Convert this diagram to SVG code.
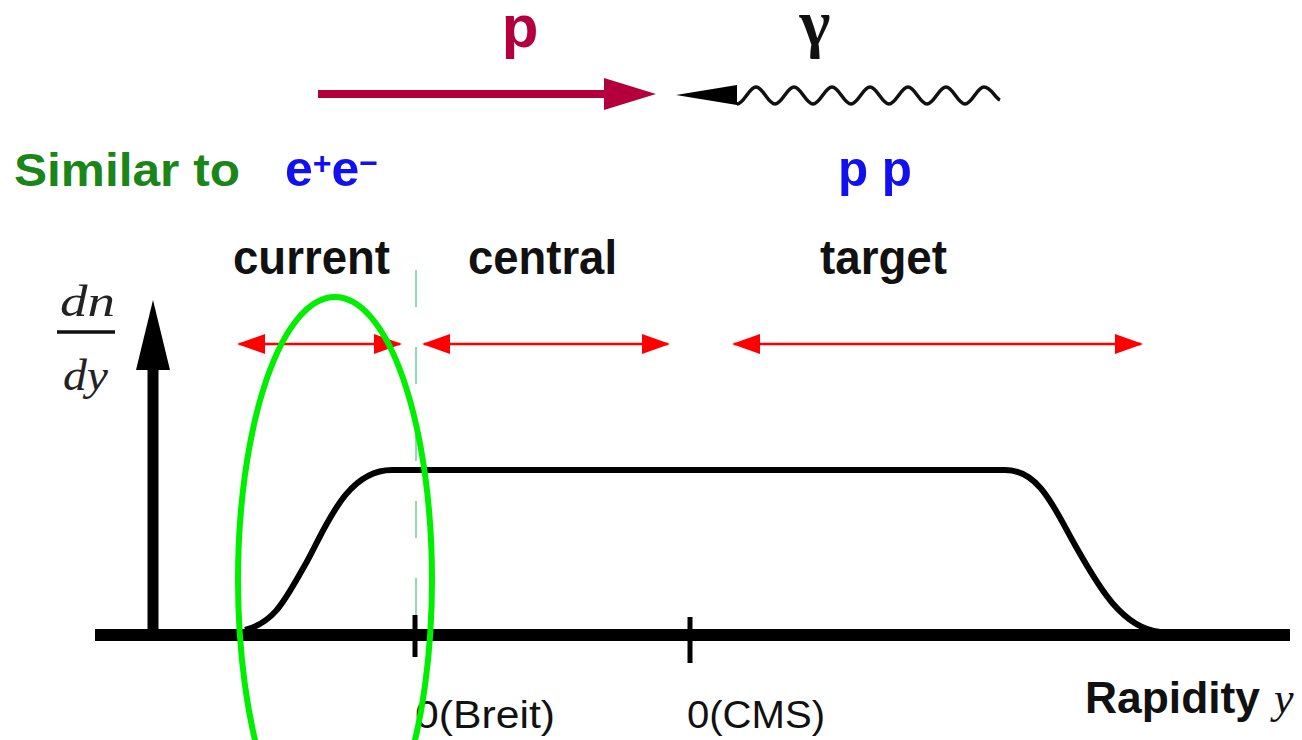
<svg xmlns="http://www.w3.org/2000/svg" width="1302" height="740" viewBox="0 0 1302 740">
<style>
.sans{font-family:"Liberation Sans",Arial,sans-serif}
.lbl{font-family:"Liberation Sans",Arial,sans-serif;font-weight:bold;font-size:48px;fill:#111}
.ax{font-family:"Liberation Sans",Arial,sans-serif;font-size:38px;fill:#111}
.ser{font-family:"Liberation Serif","Times New Roman",serif;font-style:italic;font-size:44px;fill:#222}
.blue{fill:#1010f0;font-weight:bold}
.red{stroke:#ff0000;stroke-width:2.5;fill:none;marker-start:url(#rh);marker-end:url(#rh)}
</style>
<defs>
<marker id="rh" viewBox="0 0 28 20" refX="26" refY="10" markerWidth="28" markerHeight="20" markerUnits="userSpaceOnUse" orient="auto-start-reverse">
<path d="M0,0 L28,10 L0,20 Z" fill="#ff0000"/>
</marker>
</defs>
<rect width="1302" height="740" fill="#ffffff"/>

<g id="proton">
<text x="520" y="47" text-anchor="middle" class="sans" font-size="60" font-weight="bold" fill="#b3003c">p</text>
<line x1="318" y1="94" x2="608" y2="94" stroke="#b3003c" stroke-width="8"/>
<polygon points="604,78 656,94 604,110" fill="#b3003c"/>
</g>

<g id="photon">
<text x="815" y="45" text-anchor="middle" font-family="'Liberation Serif','Times New Roman',serif" font-weight="bold" font-size="66" fill="#111">γ</text>
<polygon points="676,95 737,85 737,105" fill="#000"/>
<path d="M737,104 C744,104 749,87 756,87 S768,104 775,104 S787,87 794,87 S806,104 813,104 S825,87 832,87 S844,104 851,104 S863,87 870,87 S882,104 889,104 S901,87 908,87 S920,104 927,104 S939,87 946,87 S958,104 965,104 S977,87 984,87 S995,98 1000,100" fill="none" stroke="#111" stroke-width="3.5"/>
</g>

<g id="similar">
<text x="14" y="186" class="sans" font-size="46" font-weight="bold" fill="#1a861a" textLength="226" lengthAdjust="spacingAndGlyphs">Similar to</text>
<text x="285" y="186" class="sans blue" font-size="50">e<tspan font-size="32" dy="-12">+</tspan><tspan dy="12">e</tspan><tspan font-size="32" dy="-12">−</tspan></text>
<text x="838" y="186" class="sans blue" font-size="50" textLength="74" lengthAdjust="spacingAndGlyphs">p p</text>
</g>

<g id="regions">
<text x="233" y="274" class="lbl" textLength="157" lengthAdjust="spacingAndGlyphs">current</text>
<text x="468" y="274" class="lbl" textLength="149" lengthAdjust="spacingAndGlyphs">central</text>
<text x="820" y="274" class="lbl" textLength="127" lengthAdjust="spacingAndGlyphs">target</text>
</g>

<g id="connectors">
<line x1="239" y1="344" x2="400" y2="344" class="red"/>
<line x1="424" y1="344" x2="668" y2="344" class="red"/>
<line x1="734" y1="344" x2="1141" y2="344" class="red"/>
</g>

<g id="yaxis">
<text x="60" y="316" class="ser" textLength="55" lengthAdjust="spacingAndGlyphs">dn</text>
<line x1="57" y1="332" x2="115" y2="332" stroke="#111" stroke-width="3.5"/>
<text x="63" y="390" class="ser" textLength="45" lengthAdjust="spacingAndGlyphs">dy</text>
<line x1="153" y1="636" x2="153" y2="365" stroke="#000" stroke-width="11"/>
<polygon points="136,370 153,300 170,370" fill="#000"/>
</g>

<g id="divider">
<line x1="416" y1="270" x2="416" y2="650" stroke="#8fdcb0" stroke-width="2" stroke-dasharray="37 40"/>
</g>

<g id="distribution">
<path d="M245,630 C275,622 285,600 305,565 S345,470 392,470 L1005,470 C1040,470 1055,510 1075,545 S1120,628 1160,632" fill="none" stroke="#000" stroke-width="6"/>
</g>

<g id="xaxis">
<line x1="95" y1="635" x2="1290" y2="635" stroke="#000" stroke-width="12"/>
<line x1="415" y1="615" x2="415" y2="657" stroke="#000" stroke-width="5"/>
<line x1="690" y1="617" x2="690" y2="663" stroke="#000" stroke-width="5"/>
<text x="415" y="728" class="ax" textLength="140" lengthAdjust="spacingAndGlyphs">0(Breit)</text>
<text x="687" y="728" class="ax" textLength="138" lengthAdjust="spacingAndGlyphs">0(CMS)</text>
<text x="1085" y="713" class="sans" font-size="44" font-weight="bold" fill="#111" textLength="175" lengthAdjust="spacingAndGlyphs">Rapidity</text>
<text x="1274" y="713" font-family="'Liberation Serif','Times New Roman',serif" font-style="italic" font-size="44" fill="#111">y</text>
</g>

<g id="highlight">
<ellipse cx="335" cy="580" rx="97" ry="283" fill="none" stroke="#00ee00" stroke-width="6"/>
</g>
</svg>
